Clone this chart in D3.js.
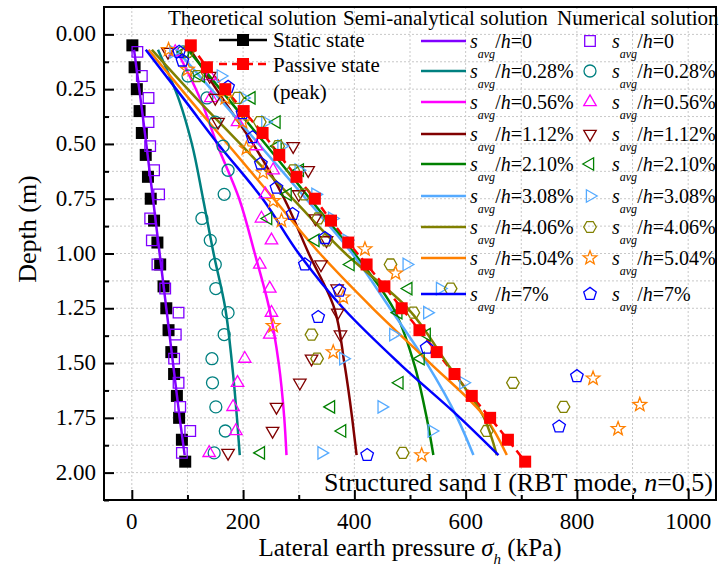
<!DOCTYPE html>
<html lang="en">
<head>
<meta charset="UTF-8">
<script src="https://d3js.org/d3.v7.min.js"></script>
<title>lateral pressure</title>
<style>
body { margin: 0; background: #fff; }
text { font-family: "Liberation Serif", "Times New Roman", serif; fill: #000; }
</style>
</head>
<body>
<script>
// theoretical solutions (depth every 0.1 m)
var theoDepth = [0.05,0.15,0.25,0.35,0.45,0.55,0.65,0.75,0.85,0.95,1.05,1.15,1.25,1.35,1.45,1.55,1.65,1.75,1.85,1.95];
var staticState = [1,5,9,14,18,25,29,34,40,46,51,57,62,66,71,76,81,85,90,96];
var passiveState = [106,135,168,201,235,265,296,329,358,389,422,454,485,517,548,580,611,644,676,707];

// semi-analytical solutions
var semiDepth = [0.07,0.3,0.5,0.75,1.0,1.25,1.5,1.75,1.92];
var semi0   = [4,16,26,38,50,62,74,86,95];
var semi028 = [47,85,108,128,147,168,180,189,194];
var semi056 = [80,124,153,193,221,247,264,274,278];
var semi112 = [105,165,218,274,318,364,382,396,404];
var semi210 = [101,175,240,320,400,470,507,530,542];
var semi308 = [80,160,228,313,396,464,530,585,614];
var semi406 = [36,119,195,289,384,496,566,633,656];
var semi504 = [30,105,172,255,338,433,536,636,674];
var semi700 = [25,95,155,235,300,380,480,590,659];

// numerical solutions
var numDepth = [0.08,0.19,0.29,0.40,0.51,0.62,0.73,0.84,0.94,1.05,1.16,1.27,1.37,1.48,1.59,1.70,1.81,1.91];
var num0   = [10,18,30,30,33,40,49,33,36,46,60,84,79,76,84,87,105,90];
var num028 = [92,101,135,150,164,173,166,126,141,150,151,173,166,144,145,151,168,148];
var num056 = [78,140,142,190,224,254,240,233,251,230,248,251,248,203,190,182,187,139];
var num112 = [65,140,150,155,290,317,300,330,350,340,369,370,375,323,302,260,253,173];
var num210 = [95,124,215,260,262,302,280,245,330,393,497,479,530,519,481,358,378,232];
var num308 = [75,160,200,240,269,300,330,360,386,494,554,531,470,380,596,449,539,341];
var num406 = [100,117,190,230,263,290,310,335,350,465,573,506,323,333,685,776,638,487];
var starDepth = [0.07,0.16,0.29,0.40,0.52,0.63,0.76,0.85,0.98,1.09,1.20,1.33,1.45,1.57,1.69,1.80,1.92];
var num504 = [66,100,168,199,206,236,254,269,419,474,380,254,362,829,913,874,521];
var pentDepth = [0.08,0.12,0.24,0.36,0.47,0.59,0.70,0.82,0.93,1.05,1.17,1.29,1.43,1.56,1.79,1.92];
var num700 = [85,91,173,199,217,232,260,289,347,311,373,335,530,800,768,423];

var labels = ["0","0.28%","0.56%","1.12%","2.10%","3.08%","4.06%","5.04%","7%"];
var colors = ["#8000ff","#008080","#ff00ff","#800000","#008000","#55aaff","#808000","#ff8000","#0000ff"];
var shapes = ["square","circle","up","down","left","right","hexagon","star","pentagon"];

var semiVals = [semi0,semi028,semi056,semi112,semi210,semi308,semi406,semi504,semi700];
var numVals = [num0,num028,num056,num112,num210,num308,num406,num504,num700];
var numDepths = [numDepth,numDepth,numDepth,numDepth,numDepth,numDepth,numDepth,starDepth,pentDepth];

var width = 719, height = 570;
var svg = d3.select("body").append("svg").attr("width", width).attr("height", height);

var x = d3.scaleLinear().domain([-50, 1050]).range([104, 716]);
var y = d3.scaleLinear().domain([-0.125, 2.125]).range([7, 500]);

// grid
var gx = d3.range(0, 1001, 100), gy = d3.range(0, 2.126, 0.125);
svg.append("g").selectAll("line").data(gx).enter().append("line")
  .attr("x1", d => x(d)).attr("x2", d => x(d)).attr("y1", 7).attr("y2", 500)
  .attr("stroke", "#c8c8c8").attr("stroke-dasharray", "2,2").attr("stroke-width", 1);
svg.append("g").selectAll("line").data(gy).enter().append("line")
  .attr("y1", d => y(d)).attr("y2", d => y(d)).attr("x1", 104).attr("x2", 716)
  .attr("stroke", "#c8c8c8").attr("stroke-dasharray", "2,2").attr("stroke-width", 1);

function markerPath(shape, r) {
  function poly(n, rot, rr) {
    var pts = [];
    for (var i = 0; i < n; i++) {
      var a = rot + i * 2 * Math.PI / n;
      pts.push([rr * Math.cos(a), rr * Math.sin(a)]);
    }
    return "M" + pts.map(p => p[0].toFixed(2) + "," + p[1].toFixed(2)).join("L") + "Z";
  }
  if (shape == "square") return poly(4, Math.PI / 4, r * 1.25);
  if (shape == "circle") return d3.symbol(d3.symbolCircle, Math.PI * r * r)();
  if (shape == "up") return poly(3, -Math.PI / 2, r * 1.2);
  if (shape == "down") return poly(3, Math.PI / 2, r * 1.2);
  if (shape == "left") return poly(3, Math.PI, r * 1.2);
  if (shape == "right") return poly(3, 0, r * 1.2);
  if (shape == "hexagon") return poly(6, 0, r * 1.05);
  if (shape == "pentagon") return poly(5, -Math.PI / 2, r * 1.1);
  if (shape == "star") {
    var pts = [];
    for (var i = 0; i < 10; i++) {
      var a = -Math.PI / 2 + i * Math.PI / 5, rr = i % 2 ? r * 0.5 : r * 1.2;
      pts.push([rr * Math.cos(a), rr * Math.sin(a)]);
    }
    return "M" + pts.map(p => p[0].toFixed(2) + "," + p[1].toFixed(2)).join("L") + "Z";
  }
}

// theoretical
var theoLine = d3.line().x(d => x(d[1])).y(d => y(d[0]));
var pass = theoDepth.map((d, i) => [d, passiveState[i]]);
var stat = theoDepth.map((d, i) => [d, staticState[i]]);
svg.append("path").attr("d", theoLine(pass)).attr("fill", "none").attr("stroke", "#ff0000")
  .attr("stroke-width", 2.5).attr("stroke-dasharray", "8,5");
svg.append("g").selectAll("rect").data(stat).enter().append("rect")
  .attr("x", d => x(d[1]) - 6).attr("y", d => y(d[0]) - 6).attr("width", 12).attr("height", 12).attr("fill", "#000");

// semi-analytical
var semiLine = d3.line().x(d => x(d[1])).y(d => y(d[0])).curve(d3.curveMonotoneY);
semiVals.forEach(function(vals, k) {
  svg.append("path").attr("d", semiLine(semiDepth.map((d, i) => [d, vals[i]])))
    .attr("fill", "none").attr("stroke", colors[k]).attr("stroke-width", 2.5);
});

// numerical
numVals.forEach(function(vals, k) {
  svg.append("g").selectAll("path").data(numDepths[k].map((d, i) => [d, vals[i]])).enter().append("path")
    .attr("d", markerPath(shapes[k], 6))
    .attr("transform", d => "translate(" + x(d[1]) + "," + y(d[0]) + ")")
    .attr("fill", "none").attr("stroke", colors[k]).attr("stroke-width", 1.3);
});

svg.append("g").selectAll("rect").data(pass).enter().append("rect")
  .attr("x", d => x(d[1]) - 6).attr("y", d => y(d[0]) - 6).attr("width", 12).attr("height", 12).attr("fill", "#ff0000");

// axes
var xAxis = d3.axisBottom(x).tickValues(d3.range(0, 1001, 100)).tickSize(-10).tickFormat("");
var yAxis = d3.axisLeft(y).tickValues(gy).tickSize(-10).tickFormat("");
var xa = svg.append("g").attr("transform", "translate(0,500)").call(xAxis);
var ya = svg.append("g").attr("transform", "translate(104,0)").call(yAxis);
xa.selectAll(".tick line").attr("stroke-width", 2).attr("y2", (d, i) => i % 2 ? -5 : -10);
ya.selectAll(".tick line").attr("stroke-width", 2).attr("x2", (d, i) => i % 2 ? 5 : 10);
xa.select(".domain").remove();
ya.select(".domain").remove();
svg.append("rect").attr("x", 104).attr("y", 7).attr("width", 612).attr("height", 493)
  .attr("fill", "none").attr("stroke", "#000").attr("stroke-width", 2);

svg.append("g").selectAll("text").data(d3.range(0, 1001, 200)).enter().append("text")
  .attr("x", d => x(d)).attr("y", 529).attr("text-anchor", "middle").attr("font-size", 23).text(d => d);
svg.append("g").selectAll("text").data(d3.range(0, 2.01, 0.25)).enter().append("text")
  .attr("x", 96).attr("y", d => y(d) + 7).attr("text-anchor", "end").attr("font-size", 23).text(d => d.toFixed(2));

var xt = svg.append("text").attr("x", 410).attr("y", 556).attr("text-anchor", "middle").attr("font-size", 25);
xt.append("tspan").text("Lateral earth pressure ");
xt.append("tspan").attr("font-style", "italic").text("σ");
xt.append("tspan").attr("font-style", "italic").attr("font-size", 15).attr("dy", 8).text("h");
xt.append("tspan").attr("dy", -8).text(" (kPa)");
svg.append("text").attr("transform", "translate(36,229) rotate(-90)").attr("text-anchor", "middle")
  .attr("font-size", 26).text("Depth (m)");

var st = svg.append("text").attr("x", 713).attr("y", 491).attr("text-anchor", "end").attr("font-size", 26);
st.append("tspan").text("Structured sand I (RBT mode, ");
st.append("tspan").attr("font-style", "italic").text("n");
st.append("tspan").text("=0.5)");

// legend
svg.append("text").attr("x", 168).attr("y", 25).attr("font-size", 21).text("Theoretical solution");
svg.append("text").attr("x", 343).attr("y", 25).attr("font-size", 21).text("Semi-analytical solution");
svg.append("text").attr("x", 557).attr("y", 25).attr("font-size", 21).text("Numerical solution");

svg.append("line").attr("x1", 219).attr("x2", 267).attr("y1", 40).attr("y2", 40).attr("stroke", "#000").attr("stroke-width", 2.5);
svg.append("rect").attr("x", 237).attr("y", 34).attr("width", 12).attr("height", 12).attr("fill", "#000");
svg.append("text").attr("x", 273).attr("y", 47).attr("font-size", 21).text("Static state");
svg.append("line").attr("x1", 219).attr("x2", 267).attr("y1", 64).attr("y2", 64).attr("stroke", "#ff0000")
  .attr("stroke-width", 2.5).attr("stroke-dasharray", "8,5");
svg.append("rect").attr("x", 237).attr("y", 58).attr("width", 12).attr("height", 12).attr("fill", "#ff0000");
svg.append("text").attr("x", 273).attr("y", 72).attr("font-size", 21).text("Passive state");
svg.append("text").attr("x", 273).attr("y", 99).attr("font-size", 21).text("(peak)");

var rowY = [41, 71, 102, 134, 164, 196, 227, 258, 294];
function legendLabel(xp, yp, lab) {
  var t = svg.append("text").attr("x", xp).attr("y", yp + 7).attr("font-size", 20);
  t.append("tspan").attr("font-style", "italic").text("s");
  t.append("tspan").attr("font-style", "italic").attr("font-size", 12).attr("dy", 10).text("avg");
  t.append("tspan").attr("dy", -10).text("/");
  t.append("tspan").attr("font-style", "italic").text("h");
  t.append("tspan").text("=" + lab);
}
labels.forEach(function(lab, k) {
  svg.append("line").attr("x1", 421).attr("x2", 466).attr("y1", rowY[k]).attr("y2", rowY[k])
    .attr("stroke", colors[k]).attr("stroke-width", 2.5);
  legendLabel(470, rowY[k], lab);
  svg.append("path").attr("d", markerPath(shapes[k], 6)).attr("transform", "translate(590," + rowY[k] + ")")
    .attr("fill", "none").attr("stroke", colors[k]).attr("stroke-width", 1.3);
  legendLabel(612, rowY[k], lab);
});
</script>
</body>
</html>
